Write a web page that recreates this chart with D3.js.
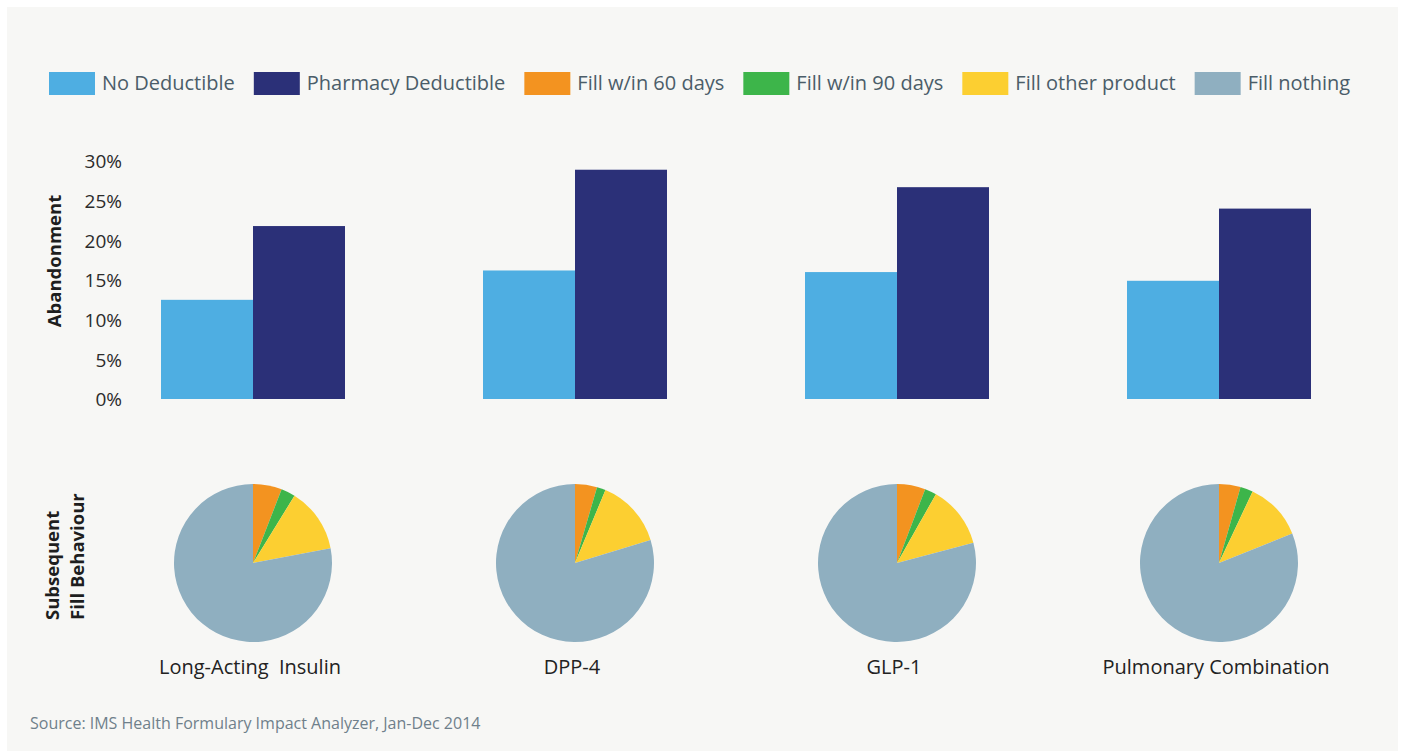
<!doctype html>
<html lang="en">
<head>
  <meta charset="utf-8">
  <style>
    body { margin: 0; background: white; }
    svg { display: block; }
    text { font-family: "Open Sans", sans-serif; }
    .tick text { fill: #2b2b2b; font-size: 19px; }
    .legend text { fill: #4b5d69; font-size: 20px; }
    .axis-title { fill: #1e1e1e; font-size: 18.5px; font-weight: bold; }
    .cat-label { fill: #222; font-size: 20px; }
    .source { fill: #6f808b; font-size: 16px; }
  </style>
</head>
<body>
<script src="https://d3js.org/d3.v7.min.js"></script>
<script>
var width = 1405, height = 751;

// data
var categories = ["Long-Acting  Insulin", "DPP-4", "GLP-1", "Pulmonary Combination"];
var noDeductible = [12.5, 16.2, 16.0, 14.9];
var pharmacyDeductible = [21.8, 28.9, 26.7, 24.0];
var yTicks = [0, 5, 10, 15, 20, 25, 30];
// subsequent fill behaviour shares (%), per category
var fill60 = [5.9, 4.5, 5.8, 4.4];
var fill90 = [2.9, 1.8, 2.4, 2.6];
var fillOther = [13.2, 14.0, 12.7, 11.9];
var fillNothing = [78.0, 79.7, 79.1, 81.1];

var legendNames = ["No Deductible", "Pharmacy Deductible", "Fill w/in 60 days", "Fill w/in 90 days", "Fill other product", "Fill nothing"];
var legendColors = ["#4eaee2", "#2b3078", "#f39320", "#3db54a", "#fccf31", "#8fafc0"];

var svg = d3.select("body").append("svg")
  .attr("width", width)
  .attr("height", height);

// panel
svg.append("rect")
  .attr("x", 7).attr("y", 7)
  .attr("width", 1391).attr("height", 744)
  .attr("fill", "#f7f7f5");

// legend
var legend = svg.append("g").attr("class", "legend");
var lx = 49;
legendNames.forEach(function(name, i) {
  legend.append("rect")
    .attr("x", lx).attr("y", 72)
    .attr("width", 46).attr("height", 23)
    .attr("fill", legendColors[i]);
  var t = legend.append("text")
    .attr("x", lx + 53).attr("y", 90)
    .text(name);
  lx += 53 + t.node().getComputedTextLength() + 19;
});

// scales
var x = d3.scalePoint()
  .domain(categories)
  .range([253, 1219]);
var barW = 92;

var y = d3.scaleLinear()
  .domain([0, 30])
  .range([399, 161]);

var yAxis = d3.axisLeft(y)
  .tickValues(yTicks)
  .tickSize(0)
  .tickPadding(0)
  .tickFormat(function(d) { return d + "%"; });

svg.append("g")
  .attr("transform", "translate(122,0)")
  .call(yAxis)
  .call(function(g) { g.select(".domain").remove(); })
  .selectAll("text").attr("dy", "0.36em");

svg.append("text")
  .attr("class", "axis-title")
  .attr("text-anchor", "middle")
  .attr("transform", "translate(61,261) rotate(-90)")
  .text("Abandonment");

// bars
svg.append("g").selectAll("rect")
  .data(categories)
  .enter().append("rect")
  .attr("x", function(d) { return x(d) - barW; })
  .attr("y", function(d, i) { return y(noDeductible[i]); })
  .attr("width", barW)
  .attr("height", function(d, i) { return y(0) - y(noDeductible[i]); })
  .attr("fill", legendColors[0]);

svg.append("g").selectAll("rect")
  .data(categories)
  .enter().append("rect")
  .attr("x", function(d) { return x(d); })
  .attr("y", function(d, i) { return y(pharmacyDeductible[i]); })
  .attr("width", barW)
  .attr("height", function(d, i) { return y(0) - y(pharmacyDeductible[i]); })
  .attr("fill", legendColors[1]);

// pies
var pie = d3.pie().sort(null).value(function(d) { return d; });
var arc = d3.arc().innerRadius(0).outerRadius(79);
var pieColors = legendColors.slice(2);

categories.forEach(function(c, i) {
  var g = svg.append("g")
    .attr("transform", "translate(" + x(c) + ",563)");
  g.selectAll("path")
    .data(pie([fill60[i], fill90[i], fillOther[i], fillNothing[i]]))
    .enter().append("path")
    .attr("d", arc)
    .attr("fill", function(d, j) { return pieColors[j]; });
});

svg.append("text")
  .attr("class", "axis-title")
  .attr("transform", "translate(59,620) rotate(-90)")
  .text("Subsequent");
svg.append("text")
  .attr("class", "axis-title")
  .attr("transform", "translate(84,620) rotate(-90)")
  .text("Fill Behaviour");

// category labels
svg.append("g").selectAll("text")
  .data(categories)
  .enter().append("text")
  .attr("class", "cat-label")
  .attr("text-anchor", "middle")
  .attr("x", function(d) { return x(d) - 3; })
  .attr("y", 674)
  .style("white-space", "pre")
  .text(function(d) { return d; });

svg.append("text")
  .attr("class", "source")
  .attr("x", 30).attr("y", 729)
  .text("Source: IMS Health Formulary Impact Analyzer, Jan-Dec 2014");
</script>
</body>
</html>
